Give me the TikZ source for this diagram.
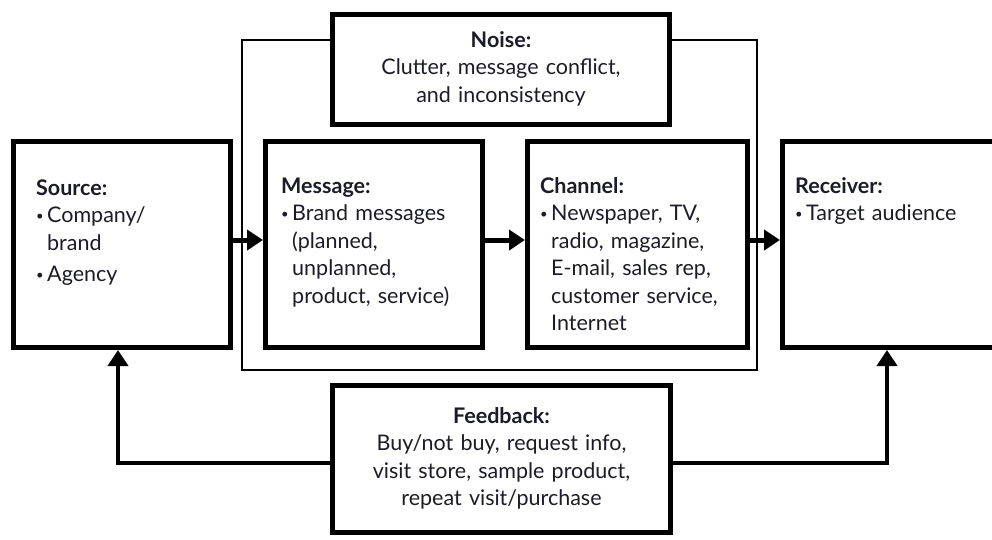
\documentclass[tikz,border=0pt]{standalone}
\usepackage{fontspec}
\setmainfont{Lato}
\usepackage{tikz}
\usetikzlibrary{calc}
\usetikzlibrary{arrows.meta}

\definecolor{ink}{RGB}{28,28,40}
\newcommand{\itm}{\par\hangindent=11pt\hangafter=1\noindent\makebox[11pt][l]{\raisebox{2pt}{\fontsize{13}{13}\selectfont\textbullet}}}

\begin{document}
\begin{tikzpicture}[x=1pt,y=-1pt,
  box/.style={draw, line width=5pt, fill=white, inner sep=0pt, outer sep=2.5pt},
  txt/.style={text=ink, text width=#1, align=left, inner sep=0pt, font=\fontsize{21.5}{27.5}\selectfont},
  ctxt/.style={text=ink, text width=#1, align=center, inner sep=0pt, font=\fontsize{21.5}{27.5}\selectfont},
  flow/.style={line width=5pt, -{Triangle[length=16pt,width=20pt]}},
  back/.style={line width=4pt, -{Triangle[length=16pt,width=20pt]}},
  frame/.style={line width=1.2pt}]
  \useasboundingbox (0,0) rectangle (992,539);
  \clip (0,0) rectangle (992,539);

  % thin frame round message and channel
  \coordinate (f1) at (242,40);
  \coordinate (f2) at (757,370);
  \draw [frame] (f1) rectangle (f2);

  \node [box, minimum width=217, minimum height=206] (source) at (122,244.5) {};
  \node [box, minimum width=217, minimum height=206] (message) at (374,244.5) {};
  \node [box, minimum width=220, minimum height=206] (channel) at (637.5,244.5) {};
  \node [box, anchor=west, minimum width=240, minimum height=206] (receiver) at (780,244.5) {};
  \node [box, minimum width=337, minimum height=110] (noise) at (501,69.5) {};
  \node [box, minimum width=338, minimum height=147] (feedback) at (501.5,459) {};

  \node [txt=195, anchor=base west] (sourcetxt) at ($ (source.north west)+(25,56) $)
    {\textbf{Source:}\itm Company/\newline brand\par\vspace{4pt}\itm Agency\par};
  \node [txt=205, anchor=base west] (messagetxt) at ($ (message.north west)+(18,54) $)
    {\textbf{Message:}\itm Brand messages\newline (planned,\newline unplanned,\newline product, service)\par};
  \node [txt=215, anchor=base west] (channeltxt) at ($ (channel.north west)+(15,54) $)
    {\textbf{Channel:}\itm Newspaper, TV,\newline radio, magazine,\newline E-mail, sales rep,\newline customer service,\newline Internet\par};
  \node [txt=200, anchor=base west] (receivertxt) at ($ (receiver.north west)+(15,54) $)
    {\textbf{Receiver:}\itm Target audience\par};
  \node [ctxt=335, anchor=base] (noisetxt) at ($ (noise.north)+(0,35) $)
    {\textbf{Noise:}\\Clutter, message conflict,\\and inconsistency};
  \node [ctxt=335, anchor=base] (feedbacktxt) at ($ (feedback.north)+(0,40) $)
    {\textbf{Feedback:}\\Buy/not buy, request info,\\visit store, sample product,\\repeat visit/purchase};

  \draw [flow] ([yshift=4.5pt]source.east) -- ([yshift=4.5pt]message.west);
  \draw [flow] ([yshift=4.5pt]message.east) -- ([yshift=4.5pt]channel.west);
  \draw [flow] ([yshift=4.5pt]channel.east) -- ([yshift=4.5pt]receiver.west);

  \coordinate (rin) at ($ (receiver.south west)+(107,0) $);
  \draw [back] ([yshift=-4pt]feedback.west) -| ([xshift=-4pt]source.south);
  \draw [back] ([yshift=-4pt]feedback.east) -| (rin);
\end{tikzpicture}
\end{document}
